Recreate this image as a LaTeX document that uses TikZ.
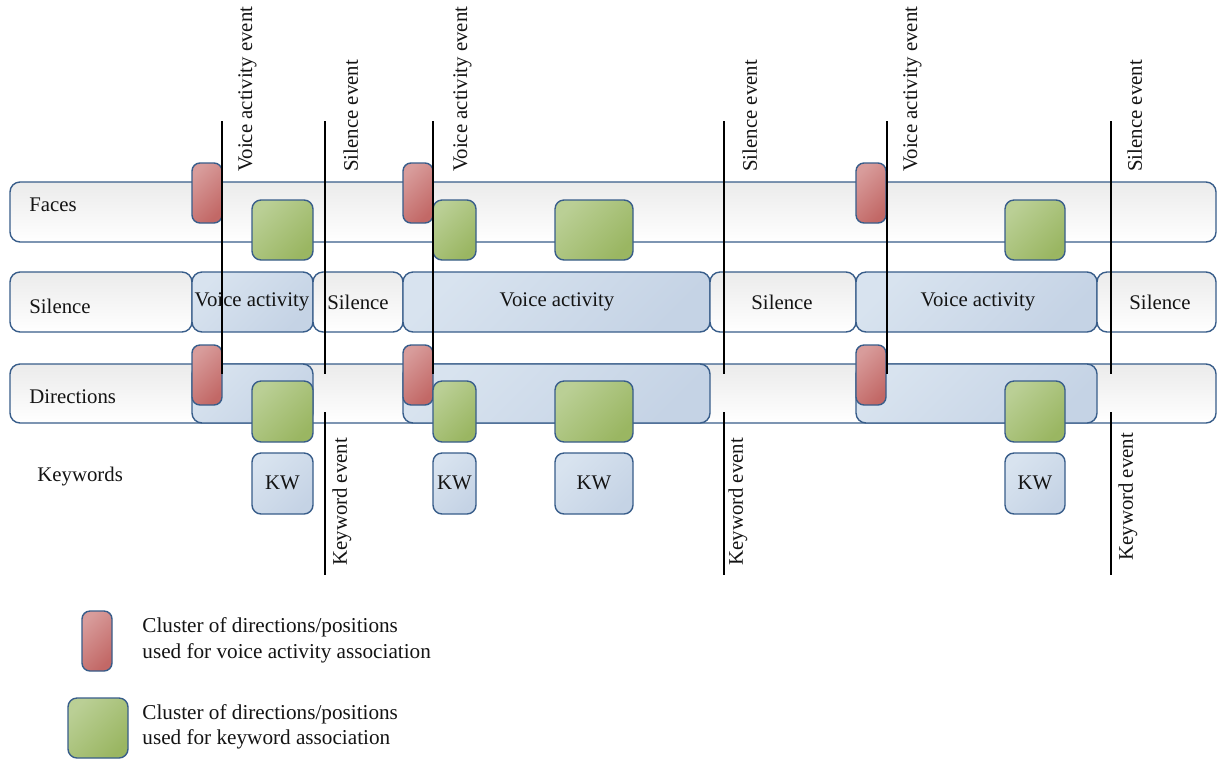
\documentclass[tikz,border=0pt]{standalone}
\usepackage{fontspec}
\setmainfont{Liberation Serif}
\definecolor{edge}{HTML}{385D8A}
\definecolor{gray1}{HTML}{EBEBEB}
\definecolor{blue1}{HTML}{D8E3EF}
\definecolor{blue2}{HTML}{C5D3E5}
\definecolor{red1}{HTML}{D89C9B}
\definecolor{red2}{HTML}{C26866}
\definecolor{green1}{HTML}{BACF95}
\definecolor{green2}{HTML}{9AB662}
\definecolor{ink}{HTML}{141414}
\begin{document}
\begin{tikzpicture}[x=0.5pt,y=-0.5pt,
  wbar/.style={draw=edge, line width=0.7pt, rounded corners=5pt, top color=gray1, bottom color=white},
  bseg/.style={draw=edge, line width=0.7pt, rounded corners=5pt, top color=blue1, bottom color=blue2, shading angle=45},
  redc/.style={draw=edge, line width=0.7pt, rounded corners=4pt, top color=red1, bottom color=red2, shading angle=45},
  greenc/.style={draw=edge, line width=0.7pt, rounded corners=4.5pt, top color=green1, bottom color=green2, shading angle=45},
  evline/.style={draw=black, line width=0.7pt},
  lbl/.style={font=\fontsize{10.4}{12}\selectfont, inner sep=0pt, text=ink},
  evlbl/.style={lbl, rotate=90, anchor=north west}]
\useasboundingbox (0,0) rectangle (1218,761);
\fill[white] (0,0) rectangle (1218,761);

% Faces row
\path[wbar] (10,182) rectangle (1216,242);
% Silence row
\path[wbar] (10,272) rectangle (192,332);
\path[bseg] (192,272) rectangle (313,332);
\path[wbar] (313,272) rectangle (403,332);
\path[bseg] (403,272) rectangle (710,332);
\path[wbar] (710,272) rectangle (856,332);
\path[bseg] (856,272) rectangle (1097,332);
\path[wbar] (1097,272) rectangle (1216,332);
% Directions row
\path[wbar] (10,364) rectangle (1216,423);
\path[bseg] (192,364) rectangle (313,423);
\path[bseg] (403,364) rectangle (710,423);
\path[bseg] (856,364) rectangle (1097,423);

% red clusters
\foreach \x in {192,403,856}{
  \path[redc] (\x,163) rectangle (\x+30,223);
  \path[redc] (\x,345) rectangle (\x+30,405);
}
% green clusters and KW boxes
\foreach \a/\b in {252/313,433/476,555/633,1005/1065}{
  \path[greenc] (\a,200) rectangle (\b,260);
  \path[greenc] (\a,381) rectangle (\b,442);
  \path[bseg, rounded corners=4.5pt] (\a,453) rectangle (\b,514);
}

% event lines
\coordinate (v1t) at (222,121); \coordinate (v1b) at (222,374);
\coordinate (v2t) at (433,121); \coordinate (v2b) at (433,374);
\coordinate (v3t) at (887,121); \coordinate (v3b) at (887,374);
\coordinate (s1t) at (325,121); \coordinate (s1b) at (325,374);
\coordinate (s2t) at (724,121); \coordinate (s2b) at (724,374);
\coordinate (s3t) at (1111,121); \coordinate (s3b) at (1111,374);
\coordinate (k1t) at (325,412); \coordinate (k1b) at (325,575);
\coordinate (k2t) at (724,412); \coordinate (k2b) at (724,575);
\coordinate (k3t) at (1111,412); \coordinate (k3b) at (1111,575);
\draw[evline] (v1t) -- (v1b);
\draw[evline] (v2t) -- (v2b);
\draw[evline] (v3t) -- (v3b);
\draw[evline] (s1t) -- (s1b);
\draw[evline] (s2t) -- (s2b);
\draw[evline] (s3t) -- (s3b);
\draw[evline] (k1t) -- (k1b);
\draw[evline] (k2t) -- (k2b);
\draw[evline] (k3t) -- (k3b);

% event labels
\node[evlbl] (ev1) at (238,172) {Voice activity event};
\node[evlbl] (es1) at (343,172) {Silence event};
\node[evlbl] (ev2) at (453,172) {Voice activity event};
\node[evlbl] (es2) at (742,172) {Silence event};
\node[evlbl] (ev3) at (903,172) {Voice activity event};
\node[evlbl] (es3) at (1127,172) {Silence event};
\node[evlbl] (ek1) at (332,566) {Keyword event};
\node[evlbl] (ek2) at (728,566) {Keyword event};
\node[evlbl] (ek3) at (1118,561) {Keyword event};

% row labels
\node[lbl, anchor=west] (rfaces) at (29,205) {Faces};
\node[lbl, anchor=west] (rsil) at (29,306) {Silence};
\node[lbl, anchor=west] (rdir) at (29,397) {Directions};
\node[lbl, anchor=west] (rkw) at (37,477) {Keywords};

% segment labels
\node[lbl] (sg1) at (252,302) {Voice activity};
\node[lbl] (sg2) at (358,302) {Silence};
\node[lbl] (sg3) at (557,302) {Voice activity};
\node[lbl] (sg4) at (782,302) {Silence};
\node[lbl] (sg5) at (978,302) {Voice activity};
\node[lbl] (sg6) at (1160,302) {Silence};

% KW labels
\node[lbl] (kw1) at (282.5,483) {KW};
\node[lbl] (kw2) at (454.5,483) {KW};
\node[lbl] (kw3) at (594,483) {KW};
\node[lbl] (kw4) at (1035,483) {KW};

% legend
\path[redc] (82,611) rectangle (112,671);
\path[greenc] (68,698) rectangle (128,758);
\node[lbl, anchor=west, align=left, font=\fontsize{10.6}{13}\selectfont] (leg1) at (142,640)
  {Cluster of directions/positions\\used for voice activity association};
\node[lbl, anchor=west, align=left, font=\fontsize{10.6}{12.5}\selectfont] (leg2) at (142,726.5)
  {Cluster of directions/positions\\used for keyword association};
\end{tikzpicture}
\end{document}
